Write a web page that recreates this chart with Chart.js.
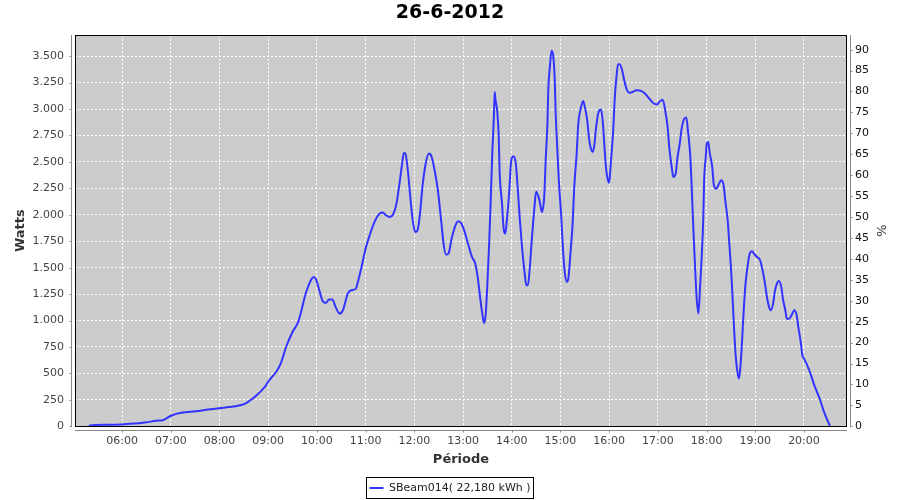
<!DOCTYPE html>
<html>
<head>
<meta charset="utf-8">
<script src="https://cdn.jsdelivr.net/npm/chart.js@4/dist/chart.umd.min.js"></script>
<style>
html,body{margin:0;padding:0;background:#fff;}
#wrap{width:900px;height:500px;}
</style>
</head>
<body>
<div id="wrap"><canvas id="c" width="900" height="500"></canvas></div>
<script>
const chartTitle = "26-6-2012";
const seriesLabel = "SBeam014( 22,180 kWh )";
const xAxisTitle = "Période";
const yAxisTitle = "Watts";
const y2AxisTitle = "%";

// minutes since midnight
const timeMinutes = [
  319, 326, 345, 357, 362, 380, 390, 402, 411, 415, 421, 429, 441, 454, 466, 480, 491, 503,
  511, 516, 521, 526, 532, 537, 540, 545, 550, 556, 562, 570, 577, 581, 585, 589, 593, 596,
  599, 603, 607, 611, 615, 619, 623, 628, 632, 638, 642, 648, 650, 655, 660, 665, 671, 676,
  681, 685, 690, 694, 698, 702, 705, 707, 709, 712, 715, 718, 721, 724, 727, 730, 734, 738,
  741, 745, 749, 753, 756, 759, 762, 766, 770, 774, 778, 782, 786, 791, 795, 798, 801, 804,
  806, 808, 810, 812, 814, 816, 818, 819, 820, 822, 824, 825, 828, 830, 832, 834, 837, 839,
  842, 845, 847, 850, 853, 856, 858, 860, 862, 865, 868, 870, 873, 875, 877, 880, 882, 884,
  885, 887, 889, 891, 893, 894, 896, 898, 901, 903, 905, 908, 910, 912, 915, 917, 920, 922,
  925, 928, 930, 933, 935, 937, 940, 942, 944, 947, 950, 952, 954, 956, 958, 960, 962, 965,
  967, 969, 971, 973, 976, 979, 982, 985, 988, 994, 1000, 1005, 1010, 1015, 1019, 1022, 1026, 1029,
  1032, 1034, 1037, 1039, 1042, 1044, 1047, 1049, 1052, 1055, 1057, 1060, 1062, 1064, 1066, 1068, 1070, 1072,
  1074, 1076, 1077, 1079, 1080, 1082, 1084, 1087, 1089, 1092, 1095, 1098, 1101, 1103, 1106, 1108, 1110, 1112,
  1114, 1116, 1118, 1120, 1122, 1124, 1126, 1128, 1131, 1133, 1136, 1139, 1142, 1146, 1149, 1152, 1154, 1157,
  1159, 1162, 1164, 1167, 1169, 1172, 1174, 1177, 1179, 1182, 1186, 1188, 1191, 1193, 1196, 1198, 1200, 1204,
  1208, 1212, 1216, 1220, 1224, 1228, 1232
];
const watts = [
  5, 12, 14, 16, 20, 28, 38, 52, 60, 78, 102, 122, 135, 145, 158, 170, 182, 195,
  212, 235, 262, 296, 340, 385, 421, 470, 516, 605, 750, 892, 987, 1097, 1223, 1318, 1387, 1412,
  1387, 1286, 1185, 1167, 1198, 1198, 1129, 1066, 1097, 1255, 1286, 1302, 1350, 1507, 1681, 1807, 1933, 2002,
  2021, 1996, 1980, 2005, 2106, 2311, 2485, 2585, 2579, 2421, 2169, 1949, 1838, 1854, 2012, 2264, 2485, 2579,
  2554, 2421, 2232, 1949, 1728, 1624, 1633, 1775, 1885, 1939, 1917, 1838, 1730, 1602, 1539, 1413, 1223, 1050,
  977, 1066, 1349, 1696, 2106, 2579, 2926, 3162, 3084, 2989, 2737, 2421, 2106, 1870, 1822, 1949, 2232, 2485,
  2554, 2485, 2295, 1949, 1665, 1444, 1334, 1334, 1476, 1791, 2075, 2217, 2169, 2106, 2027, 2169, 2548, 2863,
  3178, 3399, 3550, 3509, 3273, 2989, 2642, 2327, 1980, 1696, 1476, 1365, 1413, 1602, 1917, 2264, 2579, 2863,
  3005, 3077, 3021, 2894, 2737, 2642, 2595, 2674, 2831, 2973, 2995, 2894, 2674, 2453, 2343, 2302, 2485, 2800,
  3115, 3304, 3424, 3424, 3367, 3257, 3178, 3153, 3159, 3178, 3169, 3140, 3093, 3052, 3043, 3068, 3088, 2989,
  2831, 2642, 2453, 2358, 2390, 2532, 2674, 2800, 2901, 2920, 2800, 2548, 2201, 1822, 1476, 1192, 1066, 1318,
  1602, 1980, 2327, 2548, 2658, 2689, 2579, 2453, 2280, 2248, 2289, 2327, 2280, 2138, 1949, 1728, 1507, 1223,
  908, 656, 514, 451, 593, 845, 1129, 1349, 1539, 1627, 1655, 1627, 1602, 1570, 1476, 1349, 1239, 1129,
  1097, 1160, 1271, 1356, 1375, 1318, 1208, 1097, 1015, 1018, 1072, 1097, 1050, 940, 798, 672, 640, 577,
  498, 404, 325, 246, 151, 72, 5
];

const hourTicks = [360, 420, 480, 540, 600, 660, 720, 780, 840, 900, 960, 1020, 1080, 1140, 1200];
const wattTicks = [0, 250, 500, 750, 1000, 1250, 1500, 1750, 2000, 2250, 2500, 2750, 3000, 3250, 3500];
const percentTicks = [0, 5, 10, 15, 20, 25, 30, 35, 40, 45, 50, 55, 60, 65, 70, 75, 80, 85, 90];

const FONT = "'DejaVu Sans', 'Liberation Sans', sans-serif";
const LINE_COLOR = '#3333ff';

function fmtTime(m) {
  const h = Math.floor(m / 60), mm = m % 60;
  return String(h).padStart(2, '0') + ':' + String(mm).padStart(2, '0');
}
function fmtThousands(v) {
  return String(Math.round(v)).replace(/\B(?=(\d{3})+(?!\d))/g, '.');
}

const jfreePlugin = {
  id: 'jfree',
  beforeDraw(chart) {
    const {ctx, chartArea: a} = chart;
    ctx.save();
    ctx.fillStyle = '#ffffff';
    ctx.fillRect(0, 0, chart.width, chart.height);
    ctx.fillStyle = '#cccccc';
    ctx.fillRect(a.left, a.top, a.right - a.left, a.bottom - a.top);
    ctx.restore();
  },
  afterDraw(chart) {
    const {ctx, chartArea: a, scales} = chart;
    ctx.save();
    // plot outline
    ctx.strokeStyle = '#000000';
    ctx.lineWidth = 1;
    ctx.strokeRect(Math.round(a.left) + 0.5, Math.round(a.top) + 0.5,
      Math.round(a.right) - Math.round(a.left) - 1, Math.round(a.bottom) - Math.round(a.top));
    // offset axis lines
    ctx.strokeStyle = '#888888';
    ctx.beginPath();
    const lx = Math.round(a.left) - 3.5;
    ctx.moveTo(lx, Math.round(a.top)); ctx.lineTo(lx, Math.round(a.bottom) + 1);
    scales.y.ticks.forEach(t => {
      const py = Math.round(scales.y.getPixelForValue(t.value)) + 0.5;
      ctx.moveTo(lx - 2, py); ctx.lineTo(lx, py);
    });
    const rx = Math.round(a.right) + 3.5;
    ctx.moveTo(rx, Math.round(a.top)); ctx.lineTo(rx, Math.round(a.bottom) + 1);
    scales.y2.ticks.forEach(t => {
      const py = Math.round(scales.y2.getPixelForValue(t.value)) + 0.5;
      ctx.moveTo(rx, py); ctx.lineTo(rx + 2, py);
    });
    const by = Math.round(a.bottom) + 4.5;
    ctx.moveTo(Math.round(a.left), by); ctx.lineTo(Math.round(a.right), by);
    scales.x.ticks.forEach(t => {
      const px = Math.round(scales.x.getPixelForValue(t.value)) + 0.5;
      ctx.moveTo(px, by); ctx.lineTo(px, by + 2);
    });
    ctx.stroke();
    // legend frame
    const hb = chart.legend && chart.legend.legendHitBoxes && chart.legend.legendHitBoxes[0];
    if (hb) {
      ctx.strokeStyle = '#000000';
      ctx.strokeRect(Math.round(hb.left - 3) + 0.5, Math.round(hb.top - 6) + 0.5,
        Math.round(hb.width + 6), 21);
    }
    ctx.restore();
  }
};

new Chart(document.getElementById('c'), {
  type: 'line',
  data: {
    datasets: [{
      label: seriesLabel,
      data: timeMinutes.map((t, i) => ({x: t, y: watts[i]})),
      borderColor: LINE_COLOR,
      backgroundColor: LINE_COLOR,
      borderWidth: 2,
      pointRadius: 0,
      cubicInterpolationMode: 'monotone',
      fill: false,
      yAxisID: 'y'
    }]
  },
  options: {
    responsive: false,
    devicePixelRatio: 1,
    animation: false,
    layout: {padding: {left: 0, right: 0, top: 0, bottom: -3.5}},
    plugins: {
      title: {
        display: true,
        text: chartTitle,
        color: '#000000',
        font: {family: FONT, size: 19, weight: 'bold'},
        padding: {top: 2, bottom: 10.2}
      },
      legend: {
        display: true,
        position: 'bottom',
        labels: {
          font: {family: FONT, size: 11},
          color: '#222222',
          boxWidth: 14,
          boxHeight: 2,
          padding: 10,
          generateLabels(chart) {
            return Chart.defaults.plugins.legend.labels.generateLabels(chart).map(it => {
              it.lineWidth = 0; it.fillStyle = LINE_COLOR; return it;
            });
          }
        }
      },
      tooltip: {enabled: false}
    },
    scales: {
      x: {
        type: 'linear',
        position: 'bottom',
        min: 302,
        max: 1253,
        afterBuildTicks(s) { s.ticks = hourTicks.map(v => ({value: v})); },
        afterFit(s) { s.height = 46.2; },
        ticks: {
          autoSkip: false, maxRotation: 0, padding: 8,
          color: '#444444', font: {family: FONT, size: 11},
          callback: v => fmtTime(v)
        },
        grid: {color: '#ffffff', lineWidth: 1, drawTicks: false},
        border: {display: false, dash: [2, 2]},
        title: {
          display: true, text: xAxisTitle, color: '#333333',
          font: {family: FONT, size: 13, weight: 'bold'},
          padding: {top: 0, bottom: 4.7}
        }
      },
      y: {
        type: 'linear',
        position: 'left',
        min: 0,
        max: 3700,
        afterBuildTicks(s) { s.ticks = wattTicks.map(v => ({value: v})); },
        afterFit(s) { s.width = 75; },
        ticks: {
          padding: 11, color: '#444444', font: {family: FONT, size: 11},
          callback: v => fmtThousands(v)
        },
        grid: {color: '#ffffff', lineWidth: 1, drawTicks: false},
        border: {display: false, dash: [2, 2]},
        title: {
          display: true, text: yAxisTitle, color: '#333333',
          font: {family: FONT, size: 13, weight: 'bold'},
          padding: {top: 13.2, bottom: 0}
        }
      },
      y2: {
        type: 'linear',
        position: 'right',
        min: 0,
        max: 93.5,
        afterBuildTicks(s) { s.ticks = percentTicks.map(v => ({value: v})); },
        afterFit(s) { s.width = 53; },
        ticks: {
          padding: 8, color: '#111111', font: {family: FONT, size: 11},
          callback: v => String(v)
        },
        grid: {display: false, drawTicks: false},
        border: {display: false},
        title: {
          display: true, text: y2AxisTitle, color: '#333333',
          font: {family: FONT, size: 13},
          padding: {top: 12.2, bottom: 0}
        }
      }
    }
  },
  plugins: [jfreePlugin]
});
</script>
</body>
</html>
